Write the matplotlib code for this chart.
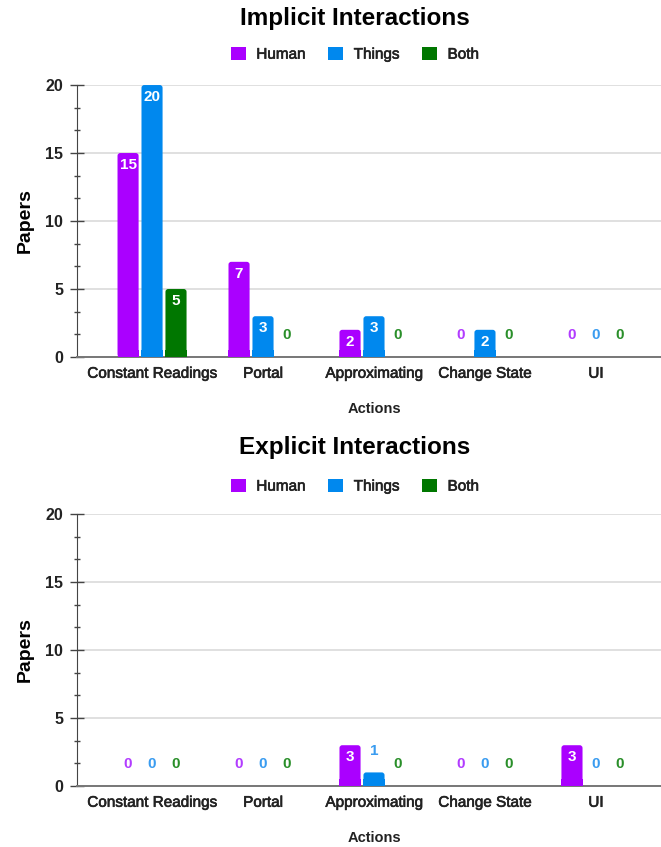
import matplotlib.pyplot as plt
import matplotlib.patheffects as pe
from matplotlib.patches import Patch, FancyBboxPatch
from matplotlib.ticker import MultipleLocator, AutoMinorLocator

plt.rcParams['font.family'] = ['Liberation Sans', 'DejaVu Sans']

actions = ['Constant Readings', 'Portal', 'Approximating', 'Change State', 'UI']
series = ['Human', 'Things', 'Both']
colors = ['#aa00ff', '#0088ee', '#007700']
label_colors = ['#b23cff', '#3a9cf0', '#2a8f2a']

implicit_human = [15, 7, 2, 0, 0]
implicit_things = [20, 3, 3, 2, 0]
implicit_both = [5, 0, 0, 0, 0]

explicit_human = [0, 0, 3, 0, 3]
explicit_things = [0, 0, 1, 0, 0]
explicit_both = [0, 0, 0, 0, 0]

fig = plt.figure(figsize=(6.61, 8.47), dpi=100)
heavy = [pe.withStroke(linewidth=0.45, foreground='#222222')]

# axes run a bit past the right edge of the figure
AX_LEFT, AX_W, AX_H = 0.1165, 0.8986, 0.3211


def draw_panel(ax, data, title, title_y, legend_y):
    width = 0.19
    step = 0.216
    # y units per pixel over x units per pixel, for round corners
    aspect = (20 / 272) / (5.352 / 594)
    for i, (vals, c, lc) in enumerate(zip(data, colors, label_colors)):
        for j, v in enumerate(vals):
            x = j + (i - 1) * step
            if v > 0:
                box = FancyBboxPatch((x - width / 2, 0), width, v,
                                     boxstyle='round,pad=0,rounding_size=0.025',
                                     mutation_aspect=aspect,
                                     facecolor=c, edgecolor='none', zorder=3)
                ax.add_patch(box)
                # square off the bottom corners
                ax.bar(x, min(v, 0.5), width=width, color=c, zorder=3)
            if v >= 2:
                ax.annotate(str(v), (x, v), xytext=(0, -8.5), textcoords='offset points',
                            ha='center', va='center', color='white',
                            fontsize=11, fontweight='bold', zorder=4)
            else:
                ax.annotate(str(v), (x, v), xytext=(0, 15.5), textcoords='offset points',
                            ha='center', va='center', color=lc,
                            fontsize=11, fontweight='bold', zorder=4)

    ax.set_xlim(-0.676, 4.676)
    ax.set_ylim(0, 20)
    ax.set_xticks(range(len(actions)))
    ax.set_xticklabels(actions, fontsize=11, color='#222222')
    for t in ax.get_xticklabels():
        t.set_path_effects(heavy)
    ax.tick_params(axis='x', length=0, pad=7)
    ax.yaxis.set_major_locator(MultipleLocator(5))
    ax.yaxis.set_minor_locator(AutoMinorLocator(3))
    ax.tick_params(axis='y', which='major', direction='inout', length=10, width=1,
                   color='#444444', labelsize=11.5, pad=5)
    ax.tick_params(axis='y', which='minor', direction='inout', length=5, width=1,
                   color='#444444')
    for t in ax.get_yticklabels():
        t.set_fontweight('bold')
        t.set_color('#222222')
    ax.grid(axis='y', color='#dddddd', linewidth=1.3, zorder=0)
    ax.set_axisbelow(True)
    for s in ['top', 'right']:
        ax.spines[s].set_visible(False)
    ax.spines['left'].set_color('#444444')
    ax.spines['bottom'].set_color('#777777')
    ax.spines['bottom'].set_linewidth(1.4)
    ax.set_ylabel('Papers', fontsize=14, fontweight='bold')
    ax.yaxis.set_label_coords(-0.073, 0.5)
    ax.set_xlabel('Actions', fontsize=10.5, fontweight='bold', color='#222222')
    ax.xaxis.set_label_coords(0.5, -0.165)

    fig.text(0.537, title_y, title, ha='center', va='center',
             fontsize=17.5, fontweight='bold')
    handles = [Patch(facecolor=c, label=s) for s, c in zip(series, colors)]
    leg = fig.legend(handles=handles, loc='center', bbox_to_anchor=(0.537, legend_y),
                     ncol=3, frameon=False, fontsize=11, handlelength=0.95,
                     handleheight=0.95, handletextpad=0.7, columnspacing=1.5)
    for t in leg.get_texts():
        t.set_color('#222222')
        t.set_path_effects(heavy)


ax1 = fig.add_axes([AX_LEFT, 0.5785, AX_W, AX_H])
draw_panel(ax1, [implicit_human, implicit_things, implicit_both],
           'Implicit Interactions', 0.978, 0.936)

ax2 = fig.add_axes([AX_LEFT, 0.0720, AX_W, AX_H])
draw_panel(ax2, [explicit_human, explicit_things, explicit_both],
           'Explicit Interactions', 0.472, 0.426)

fig.savefig('out.png', dpi=100, facecolor='white')
